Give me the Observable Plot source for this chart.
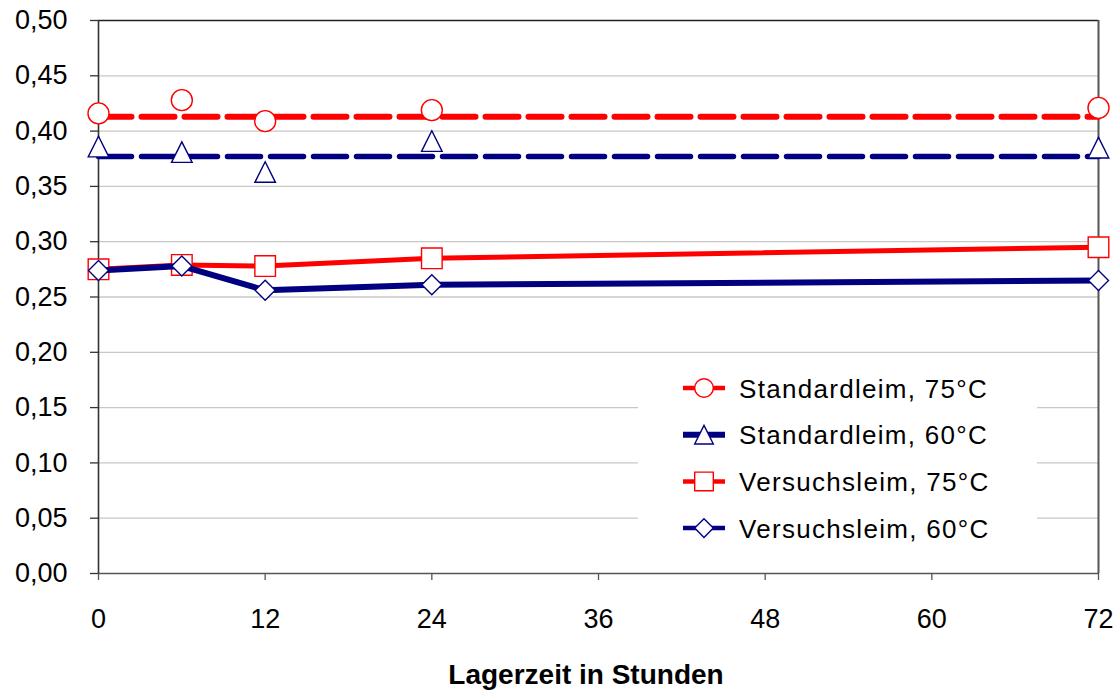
<!DOCTYPE html>
<html>
<head>
<meta charset="utf-8">
<script src="https://cdn.jsdelivr.net/npm/d3@7"></script>
<script src="https://cdn.jsdelivr.net/npm/@observablehq/plot@0.6"></script>
<style>
  html, body { margin: 0; padding: 0; background: #fff; }
  #wrap { position: relative; width: 1118px; height: 691px; font-family: "Liberation Sans", Arial, sans-serif; }
  #title { position: absolute; left: 0; width: 1172px; top: 659px; text-align: center; font-weight: bold; font-size: 28px; color: #000; }
  #legend { position: absolute; left: 638px; top: 362px; }
</style>
</head>
<body>
<div id="wrap">
  <div id="chart"></div>
  <div id="legend"></div>
  <div id="title">Lagerzeit in Stunden</div>
</div>
<script>
// ---- data ----
const hours = [0, 6, 12, 24, 72];
const std75 = [0.416, 0.428, 0.409, 0.419, 0.421];
const std60 = [0.386, 0.381, 0.363, 0.391, 0.385];
const ver75 = [0.275, 0.279, 0.278, 0.285, 0.295];
const ver60 = [0.274, 0.278, 0.256, 0.261, 0.265];
const std75Mean = 0.413;
const std60Mean = 0.377;
const xTicks = [0, 12, 24, 36, 48, 60, 72];
const yTicks = [0, 0.05, 0.10, 0.15, 0.20, 0.25, 0.30, 0.35, 0.40, 0.45, 0.50];
const seriesNames = ["Standardleim, 75°C", "Standardleim, 60°C", "Versuchsleim, 75°C", "Versuchsleim, 60°C"];

const RED = "#ff0000", NAVY = "#000080";

// custom symbols (h = half size in px)
const mk = fn => ({ draw(ctx, size) { const h = Math.sqrt(size / Math.PI); fn(ctx, h); } });
const symCircle = mk((c, h) => { c.moveTo(h, 0); c.arc(0, 0, h, 0, 2 * Math.PI); c.closePath(); });
const symTri = mk((c, h) => { c.moveTo(0, -h); c.lineTo(h, h); c.lineTo(-h, h); c.closePath(); });
const symSquare = mk((c, h) => { c.rect(-h, -h, 2 * h, 2 * h); });
const symDiamond = mk((c, h) => { c.moveTo(0, -h); c.lineTo(h, 0); c.lineTo(0, h); c.lineTo(-h, 0); c.closePath(); });

const toRows = vals => hours.map((h, i) => ({ h, v: vals[i] }));
const meanRows = m => d3.extent(hours).map(h => ({ h, v: m }));
const fmt = d => d.toFixed(2).replace(".", ",");

const plot = Plot.plot({
  width: 1118,
  height: 640,
  marginLeft: 98,
  marginRight: 20,
  marginTop: 20,
  marginBottom: 67,
  style: { fontFamily: "'Liberation Sans', Arial, sans-serif", color: "#000", background: "#fff", overflow: "visible" },
  x: { domain: [0, 72], label: null },
  y: { domain: [0, 0.5], label: null },
  marks: [
    Plot.ruleY(yTicks.filter(t => t > 0 && t < 0.5), { stroke: "#c8c8c8", strokeWidth: 1.3 }),
    Plot.ruleY([0.5], { stroke: "#222", strokeWidth: 1.6 }),
    Plot.ruleX([72], { stroke: "#555", strokeWidth: 2 }),
    Plot.ruleY([0], { stroke: "#555", strokeWidth: 1.6 }),
    Plot.ruleX([0], { stroke: "#333", strokeWidth: 1.6 }),
    Plot.axisY({ ticks: yTicks, tickSize: 8, tickPadding: 23, tickFormat: fmt, fontSize: 27, letterSpacing: 0.8, stroke: "#333", strokeWidth: 1.3 }),
    Plot.axisX({ ticks: xTicks, tickSize: 7, tickPadding: 28, tickFormat: d => String(d), fontSize: 27, stroke: "#555", strokeWidth: 1.3 }),
    // mean lines (dashed)
    Plot.line(meanRows(std75Mean), { x: "h", y: "v", stroke: RED, strokeWidth: 6, strokeDasharray: "33,10" }),
    Plot.line(meanRows(std60Mean), { x: "h", y: "v", stroke: NAVY, strokeWidth: 5.5, strokeDasharray: "33,10" }),
    // Standardleim markers
    Plot.dot(toRows(std75), { x: "h", y: "v", symbol: symCircle, r: 10.5, stroke: RED, strokeWidth: 1.4, fill: "white" }),
    Plot.dot(toRows(std60), { x: "h", y: "v", symbol: symTri, r: 10.3, stroke: NAVY, strokeWidth: 1.4, fill: "white" }),
    // Versuchsleim lines and markers
    Plot.line(toRows(ver75), { x: "h", y: "v", stroke: RED, strokeWidth: 5 }),
    Plot.dot(toRows(ver75), { x: "h", y: "v", symbol: symSquare, r: 10.3, stroke: RED, strokeWidth: 1.4, fill: "white" }),
    Plot.line(toRows(ver60), { x: "h", y: "v", stroke: NAVY, strokeWidth: 6 }),
    Plot.dot(toRows(ver60), { x: "h", y: "v", symbol: symDiamond, r: 10, stroke: NAVY, strokeWidth: 1.4, fill: "white" })
  ]
});
document.getElementById("chart").appendChild(plot);

// ---- legend ----
const legendItems = [
  { name: seriesNames[0], color: RED, sym: symCircle, lw: 4.5 },
  { name: seriesNames[1], color: NAVY, sym: symTri, lw: 6 },
  { name: seriesNames[2], color: RED, sym: symSquare, lw: 4.5 },
  { name: seriesNames[3], color: NAVY, sym: symDiamond, lw: 4.5 }
];
const lg = d3.select("#legend").append("svg")
  .attr("width", 399).attr("height", 186)
  .style("background", "#fff").style("display", "block");
const row = lg.selectAll("g").data(legendItems).join("g")
  .attr("transform", (d, i) => `translate(0,${26 + i * 46.7})`);
row.append("line").attr("x1", 45).attr("x2", 87).attr("y1", 0).attr("y2", 0)
  .attr("stroke", d => d.color).attr("stroke-width", d => d.lw);
row.append("path").attr("transform", "translate(66,0)")
  .attr("d", d => { const p = d3.path(); d.sym.draw(p, Math.PI * 9.3 * 9.3); return p.toString(); })
  .attr("fill", "white").attr("stroke", d => d.color).attr("stroke-width", 1.4);
row.append("text").attr("x", 101).attr("y", 9.5)
  .attr("font-family", "'Liberation Sans', Arial, sans-serif").attr("font-size", 26)
  .attr("letter-spacing", 1.3)
  .attr("fill", "#000").text(d => d.name);
</script>
</body>
</html>
